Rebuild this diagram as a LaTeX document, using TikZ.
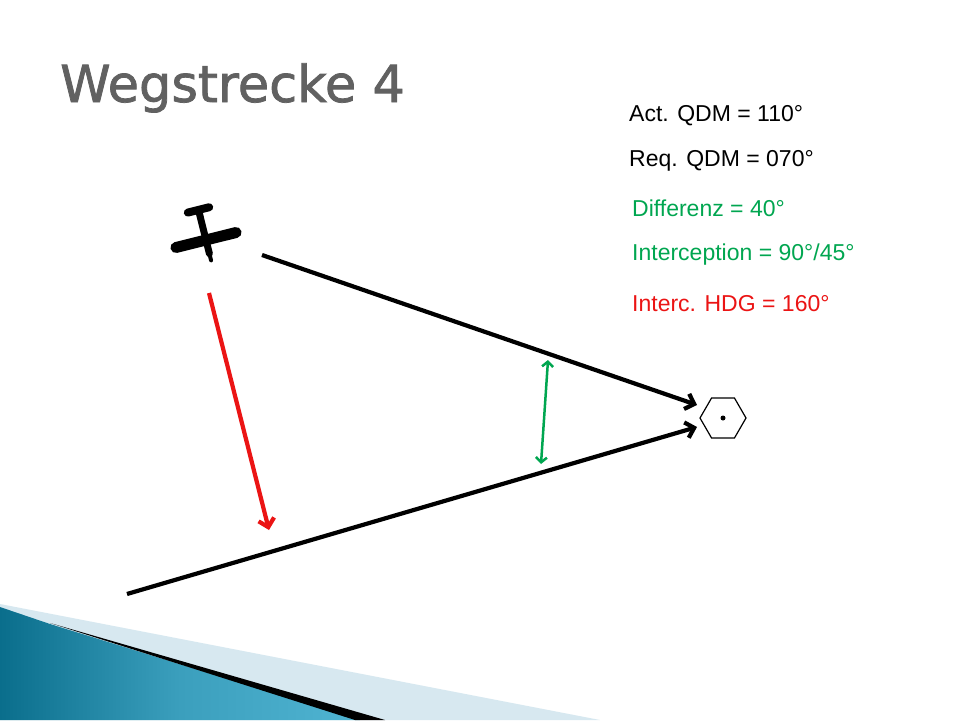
\documentclass[tikz,border=0pt]{standalone}
\usepackage{fontspec}
\setmainfont{Liberation Sans}
\newfontfamily\titlefont{DejaVu Sans}
\usetikzlibrary{shapes.geometric,arrows.meta}
\definecolor{tgreen}{RGB}{0,166,80}
\definecolor{tred}{RGB}{235,20,20}
\definecolor{teal1}{RGB}{10,110,140}
\definecolor{teal2}{RGB}{80,180,210}
\definecolor{lightb}{RGB}{215,232,240}
\tikzset{
 lbl/.style={anchor=west,font=\fontsize{23pt}{26pt}\selectfont,inner sep=0},
 trk/.style={line width=4.2pt,-{Straight Barb[length=8pt,width=16pt]}},
}
\begin{document}
\begin{tikzpicture}[x=1pt,y=-1pt]
\useasboundingbox (0,0) rectangle (960,720);
\fill[white] (0,0) rectangle (960,720);
% bottom decoration
\fill[lightb] (0,604) -- (600,720) -- (0,720) -- cycle;
\shade[left color=teal1,right color=teal2,middle color=teal2!70!teal1] (0,607) -- (50,624) -- (360,720) -- (0,720) -- cycle;
\fill[black] (50,623) -- (385,720) -- (355,720) -- cycle;
% title
\node[anchor=base west,inner sep=0,text=black!62,font=\titlefont\fontsize{51pt}{56pt}\selectfont] (title) at (60,102) {\addfontfeature{FakeBold=1.5}Wegstrecke 4};
% labels
\node[lbl] (t1) at (629,116) {Act. QDM = 110°};
\node[lbl] (t2) at (629,161) {Req. QDM = 070°};
\node[lbl,text=tgreen] (t3) at (632,208) {Differenz = 40°};
\node[lbl,text=tgreen] (t4) at (632,255) {Interception = 90°/45°};
\node[lbl,text=tred] (t5) at (632,304) {Interc. HDG = 160°};
% station
\node[regular polygon,regular polygon sides=6,draw,line width=1.2pt,minimum size=46pt,inner sep=0] (vor) at (723,418) {};
\fill (vor.center) circle (2.5pt);
% coordinates
\coordinate (a1) at (262,255);
\coordinate (a2) at (697,405);
\coordinate (b1) at (127,594);
\coordinate (b2) at (697,427);
\coordinate (g1) at (548,360);
\coordinate (g2) at (541,464);
\coordinate (r1) at (209,293);
\coordinate (r2) at (269,530);
\draw[trk] (a1) -- (a2);
\draw[trk] (b1) -- (b2);
\draw[line width=2.5pt,tgreen,{Straight Barb[length=5pt,width=11pt]}-{Straight Barb[length=5pt,width=11pt]}] (g1) -- (g2);
\draw[line width=4.2pt,tred,-{Straight Barb[length=8pt,width=16pt]}] (r1) -- (r2);
% airplane
\coordinate (plane) at (206,240);
\begin{scope}[shift={(plane)},rotate=14]
\draw[line width=11pt,line cap=round] (-31,0) -- (31,0);
\draw[line width=7pt,line cap=round] (0,-28) -- (0,14);
\draw[line width=8pt,line cap=round] (-11,-31) -- (11,-31);
\draw[line width=4pt,line cap=round] (0,14) -- (0,21);
\end{scope}
\end{tikzpicture}
\end{document}
